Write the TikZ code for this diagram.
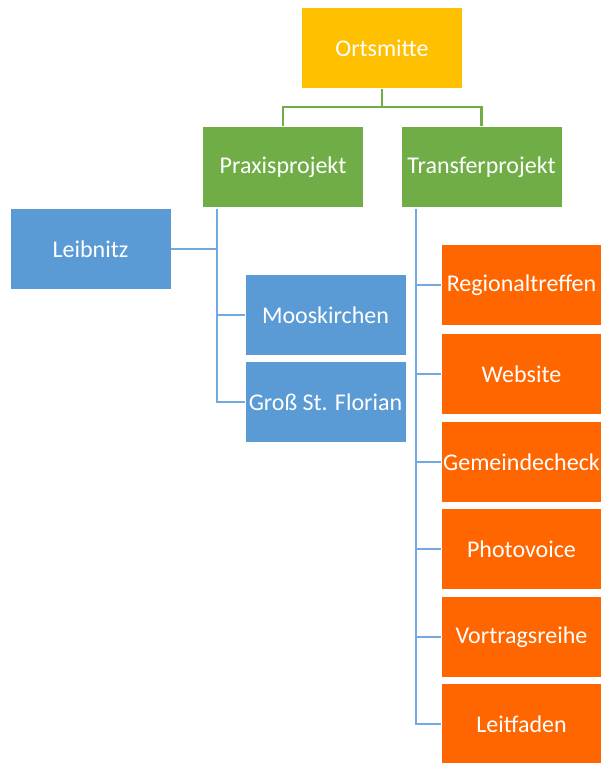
\documentclass[tikz,border=0pt]{standalone}
\usepackage{fontspec}
\setmainfont{Carlito}
\usepackage{tikz}
\usetikzlibrary{positioning}

\definecolor{ortgold}{HTML}{FFC000}
\definecolor{projgreen}{HTML}{70AD47}
\definecolor{ortblue}{HTML}{5B9BD5}
\definecolor{linkblue}{HTML}{72A9E0}
\definecolor{transorange}{HTML}{FF6600}

\begin{document}
\begin{tikzpicture}[x=1pt,y=-1pt,
  box/.style={draw=white,line width=0.8pt,minimum width=161pt,minimum height=81pt,
    inner sep=0pt,text=white,font=\fontsize{24}{28}\selectfont},
  goldbox/.style={box,fill=ortgold},
  greenbox/.style={box,fill=projgreen},
  bluebox/.style={box,fill=ortblue},
  orangebox/.style={box,fill=transorange},
  gline/.style={projgreen,line width=2.6pt},
  bline/.style={linkblue,line width=2.6pt}]
\useasboundingbox (0,0) rectangle (600,763);
% Top level
\node[goldbox] (ort) at (382,48) {Ortsmitte};

\node[greenbox] (praxis) at (283,167) {Praxisprojekt};
\node[greenbox] (transfer) at (481.5,167) {Transferprojekt};

\draw[gline] (ort.south) -- ++(0,18) -| (praxis.north);
\draw[gline] (ort.south) -- ++(0,18) -| (transfer.north);

% Praxisprojekt
\node[bluebox] (leibnitz) at (90.5,249) {Leibnitz};
\node[bluebox] (moos) at (325.5,315) {Mooskirchen};
\node[bluebox] (florian) at (325.5,402) {Groß St. Florian};

\coordinate (pbus) at (217,209);
\draw[bline] (pbus) |- (leibnitz.east);
\draw[bline] (pbus) |- (moos.west);
\draw[bline] (pbus) |- (florian.west);

% Transferprojekt
\node[orangebox] (treffen) at (521.5,285) {Regionaltreffen};
\node[orangebox] (website) at (521.5,374) {Website};
\node[orangebox] (check) at (521.5,462) {Gemeindecheck};
\node[orangebox] (photo) at (521.5,549) {Photovoice};
\node[orangebox] (vortrag) at (521.5,637) {Vortragsreihe};
\node[orangebox] (leitfaden) at (521.5,724) {Leitfaden};

\coordinate (tbus) at (416,209);
\foreach \n in {treffen,website,check,photo,vortrag,leitfaden}
  \draw[bline] (tbus) |- (\n.west);
\end{tikzpicture}
\end{document}
